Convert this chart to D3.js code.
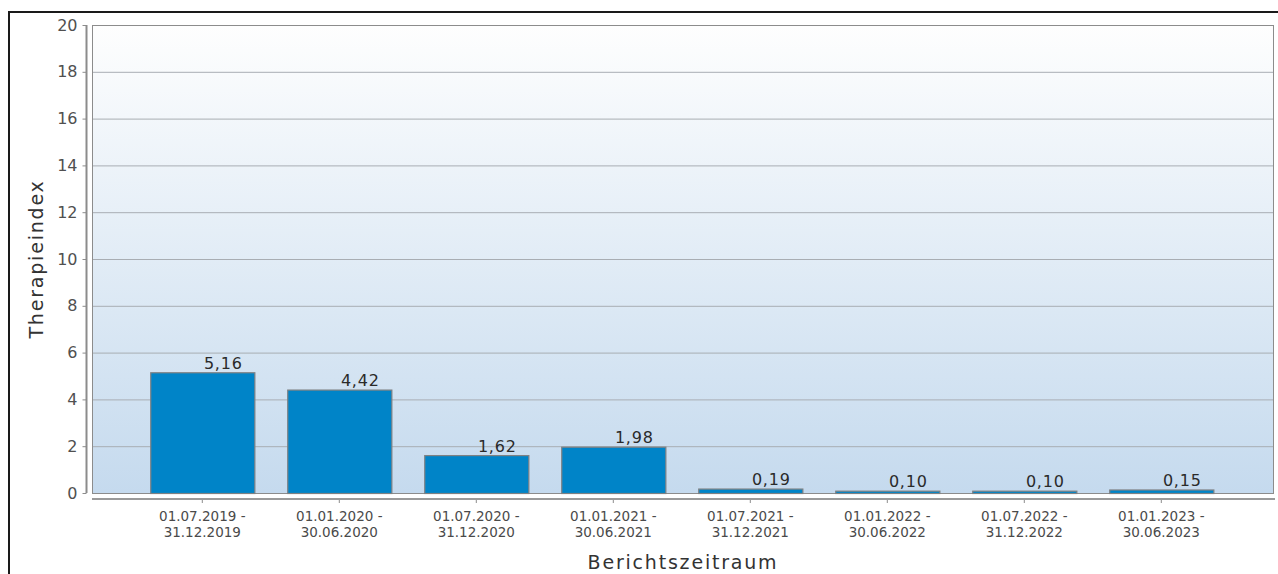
<!DOCTYPE html>
<html>
<head>
<meta charset="utf-8">
<script src="https://cdn.jsdelivr.net/npm/d3@7/dist/d3.min.js"></script>
<style>
  html, body { margin: 0; padding: 0; background: #fff; }
  svg { display: block; font-family: "DejaVu Sans", sans-serif; }
</style>
</head>
<body>
<svg id="chart" width="1278" height="574"></svg>
<script>
// Reporting periods (two-line labels) and therapy index per period
const periodStart = ["01.07.2019", "01.01.2020", "01.07.2020", "01.01.2021",
                     "01.07.2021", "01.01.2022", "01.07.2022", "01.01.2023"];
const periodEnd   = ["31.12.2019", "30.06.2020", "31.12.2020", "30.06.2021",
                     "31.12.2021", "30.06.2022", "31.12.2022", "30.06.2023"];
const indexValues = [5.16, 4.42, 1.62, 1.98, 0.19, 0.10, 0.10, 0.15];
const yTicks = [0, 2, 4, 6, 8, 10, 12, 14, 16, 18, 20];

const svg = d3.select("#chart");
const plot = { left: 92, right: 1274, top: 25, bottom: 493 };

const fmt = v => d3.format(".2f")(v).replace(".", ",");

const x = d3.scaleBand()
  .domain(periodStart.map((d, i) => i))
  .range([133.8, 1229.8])
  .paddingInner(0.24)
  .paddingOuter(0.12);

const y = d3.scaleLinear().domain([0, 20]).range([plot.bottom, plot.top]);

// background gradient of the plot area
const defs = svg.append("defs");
const grad = defs.append("linearGradient").attr("id", "bg")
  .attr("x1", 0).attr("y1", 0).attr("x2", 0).attr("y2", 1);
grad.append("stop").attr("offset", "0%").attr("stop-color", "#fefefe");
grad.append("stop").attr("offset", "100%").attr("stop-color", "#c5daee");

// outer frame (top and left edges)
svg.append("path")
  .attr("d", "M9,574 V12 H1278")
  .attr("fill", "none").attr("stroke", "#1a1a1a").attr("stroke-width", 2);

svg.append("rect")
  .attr("x", plot.left).attr("y", plot.top)
  .attr("width", plot.right - plot.left).attr("height", plot.bottom - plot.top)
  .attr("fill", "url(#bg)");

// horizontal grid lines
svg.append("g").selectAll("line")
  .data(yTicks.filter(t => t > 0 && t < 20))
  .join("line")
  .attr("x1", plot.left).attr("x2", plot.right)
  .attr("y1", d => y(d) + 0.5).attr("y2", d => y(d) + 0.5)
  .attr("stroke", "#a8adb3").attr("stroke-width", 1);

// plot border
svg.append("rect")
  .attr("x", plot.left + 0.5).attr("y", plot.top + 0.5)
  .attr("width", plot.right - plot.left - 1).attr("height", plot.bottom - plot.top)
  .attr("fill", "none").attr("stroke", "#8c8c8c").attr("stroke-width", 1);

// bars
svg.append("g").selectAll("rect")
  .data(indexValues)
  .join("rect")
  .attr("x", (d, i) => x(i) + 0.5)
  .attr("y", d => y(d) + 0.5)
  .attr("width", x.bandwidth())
  .attr("height", d => y(0) - y(d))
  .attr("fill", "#0084c8")
  .attr("stroke", "#7f8183").attr("stroke-width", 1.2);

// value labels
svg.append("g").selectAll("text")
  .data(indexValues)
  .join("text")
  .attr("x", (d, i) => x(i) + x.bandwidth() / 2 + 21)
  .attr("y", d => y(d) - 3.5)
  .attr("text-anchor", "middle")
  .attr("font-size", 16)
  .attr("letter-spacing", 0.8)
  .attr("fill", "#2a2a2a")
  .text(fmt);

// y axis
const yAxis = svg.append("g")
  .attr("transform", "translate(86.5,0)")
  .call(d3.axisLeft(y).tickValues(yTicks).tickSize(4).tickPadding(5));
yAxis.select(".domain").attr("stroke", "#8c8c8c").attr("stroke-width", 2)
  .attr("d", `M0,${plot.top}V${plot.bottom}`);
yAxis.selectAll(".tick line").attr("stroke", "#8c8c8c");
yAxis.selectAll(".tick text")
  .attr("font-size", 16).attr("fill", "#505050")
  .attr("font-family", "DejaVu Sans, sans-serif");

// x axis
const xAxis = svg.append("g")
  .attr("transform", "translate(0,499)")
  .call(d3.axisBottom(x).tickSize(4).tickFormat(""));
xAxis.select(".domain").attr("stroke", "#9a9a9a").attr("stroke-width", 2)
  .attr("d", `M${plot.left},0H${plot.right + 1}`);
xAxis.selectAll(".tick line").attr("stroke", "#8c8c8c").attr("y1", 1);

// two-line category labels
const catLabels = svg.append("g").selectAll("text")
  .data(periodStart)
  .join("text")
  .attr("text-anchor", "middle")
  .attr("font-size", 13.5)
  .attr("fill", "#4a4a4a");
catLabels.append("tspan")
  .attr("x", (d, i) => x(i) + x.bandwidth() / 2)
  .attr("y", 521)
  .text(d => d + " -");
catLabels.append("tspan")
  .attr("x", (d, i) => x(i) + x.bandwidth() / 2)
  .attr("y", 537)
  .text((d, i) => periodEnd[i]);

// axis titles
svg.append("text")
  .attr("x", (plot.left + plot.right) / 2)
  .attr("y", 569)
  .attr("text-anchor", "middle")
  .attr("font-size", 19)
  .attr("letter-spacing", 1.8)
  .attr("fill", "#333")
  .text("Berichtszeitraum");

svg.append("text")
  .attr("transform", `translate(43,${(plot.top + plot.bottom) / 2}) rotate(-90)`)
  .attr("text-anchor", "middle")
  .attr("font-size", 19)
  .attr("letter-spacing", 1.8)
  .attr("fill", "#333")
  .text("Therapieindex");
</script>
</body>
</html>
